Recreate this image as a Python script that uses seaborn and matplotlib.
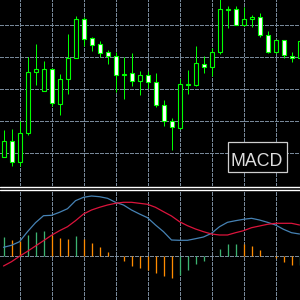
import numpy as np
import pandas as pd
import matplotlib
matplotlib.use("Agg")
import matplotlib.pyplot as plt
import seaborn as sns
from matplotlib.lines import Line2D
from matplotlib.patches import Rectangle

# ---- price candles (relative price units) ----
opens = [29, 45, 24, 53, 114, 95, 117, 82, 107, 128, 167, 148, 142, 134, 130, 111, 113, 105, 111,
         104, 81, 65, 58, 101.5, 101, 122, 119, 134, 176.5, 177, 161, 167, 169, 151, 134, 146, 130, 128]
highs = [56, 57, 65, 129, 142, 125, 118, 112, 152, 170, 169, 149, 145, 136, 134, 129, 133, 115, 115,
         113, 86, 68, 107, 116, 140, 130, 138, 190, 180, 180, 179, 171, 173, 155, 146, 146, 134, 149]
lows = [29, 20, 20, 51, 101, 95, 80, 71, 92, 128, 140, 135, 129, 122, 94, 87, 100, 91, 98,
        79, 60, 36, 57, 92, 100, 113, 110, 132, 158, 161, 160, 159, 149, 133, 133, 128, 124, 128]
closes = [45, 24, 53, 114, 117, 117, 83, 107, 128, 167, 147, 141, 133, 130, 111, 112, 105, 111, 104,
          81, 65, 59, 102, 102, 123, 119, 134, 177, 177, 161, 167, 169, 151, 134, 146, 131, 128, 145]

# ---- MACD ----
macd_line = [9.0, 11.0, 14.6, 24.6, 33.6, 40.6, 41.0, 44.0, 47.6, 55.6, 59.0, 60.3, 59.6, 58.0, 54.0,
             51.3, 46.3, 42.3, 38.6, 31.3, 24.6, 16.3, 16.0, 16.0, 17.6, 19.3, 23.0, 29.6, 34.0, 35.6,
             37.0, 38.0, 36.3, 34.0, 31.3, 27.0, 23.6, 22.3]
signal_line = [-9.7, -5.4, 0.0, 5.0, 10.3, 15.6, 21.0, 25.6, 29.6, 35.6, 42.3, 46.3, 49.0, 51.3, 53.0,
               54.0, 54.0, 53.0, 52.0, 49.0, 44.6, 40.3, 34.6, 30.6, 27.3, 24.6, 22.3, 21.3, 21.3, 23.6,
               25.6, 28.6, 30.3, 32.0, 33.0, 33.0, 33.0, 31.3]
histogram = [19.3, 16.3, 15.3, 21.3, 24.3, 25.3, 21.3, 18.3, 17.3, 20.3, 17.3, 13.3, 9.3, 4.3, 0.5,
             -4.7, -9.7, -11.7, -13.7, -16.7, -19.7, -21.7, -18.7, -13.7, -7.7, -4.7, 0.5, 7.3, 12.3,
             12.6, 12.0, 10.3, 6.3, 0.8, -1.7, -5.7, -8.7, -8.5]

label_text = "MACD"

df = pd.DataFrame({"open": opens, "high": highs, "low": lows, "close": closes,
                   "macd": macd_line, "signal": signal_line, "hist": histogram})
df["idx"] = np.arange(len(df))

sns.set_theme(style="dark", rc={"axes.facecolor": "black", "figure.facecolor": "black"})

BG = "black"
GRID = "#778899"
LIME = "#00ff00"
PX = 0.72  # one pixel in points at 100 dpi

fig = plt.figure(figsize=(3, 3), dpi=100, facecolor=BG)
ax1 = fig.add_axes([0, 114 / 300, 1, 186 / 300])
ax2 = fig.add_axes([0, 0, 1, 110 / 300])

xlim = (-0.4375, 37.0625)
grid_idx = np.arange(2, 38, 4)

for ax in (ax1, ax2):
    ax.set_facecolor(BG)
    ax.set_xlim(*xlim)
    ax.set_xticks(grid_idx)
    for s in ax.spines.values():
        s.set_visible(False)
    ax.tick_params(length=0, labelbottom=False, labelleft=False)
    ax.grid(True, color=GRID, ls=(0, (3, 2)), lw=PX, antialiased=False)
    ax.set_axisbelow(True)
    ax.set_xlabel("")
    ax.set_ylabel("")

# ---- top panel: candles ----
ax1.set_ylim(0, 186)
ax1.set_yticks([33, 65, 97, 129, 161])
ax1.vlines(df["idx"], df["low"], df["high"], color=LIME, lw=PX, zorder=2, snap=True)
up = df["close"] >= df["open"]
body_bottom = np.minimum(df["open"], df["close"])
body_h = np.maximum(np.abs(df["close"] - df["open"]), 0.4)
ax1.bar(df["idx"], body_h, bottom=body_bottom, width=0.5,
        color=np.where(up, "black", "white"), edgecolor=LIME, linewidth=0.8, zorder=3)

# ---- bottom panel: MACD ----
ax2.set_ylim(-43.7, 66.3)
ax2.set_yticks([0])
hist_colors = ["#3cb371" if (i == 0 or histogram[i] >= histogram[i - 1]) else "#ff8c00"
               for i in range(len(histogram))]
ax2.vlines(df["idx"], 0, df["hist"], colors=hist_colors, lw=PX * 1.3, zorder=2, snap=True)
sns.lineplot(data=df, x="idx", y="macd", ax=ax2, color="#4682b4", lw=0.9, zorder=3, estimator=None)
sns.lineplot(data=df, x="idx", y="signal", ax=ax2, color="#dc143c", lw=0.9, zorder=3, estimator=None)
ax2.set_xlabel("")
ax2.set_ylabel("")
ax2.set_xlim(*xlim)

# ---- separators ----
for r in (186.8, 190.0):
    fig.add_artist(Line2D([0, 1], [1 - r / 300, 1 - r / 300], transform=fig.transFigure,
                          color="white", lw=1.0))

# ---- label ----
fig.add_artist(Rectangle((227.5 / 300, 1 - 172 / 300), 59.5 / 300, 30.5 / 300,
                         transform=fig.transFigure, facecolor=BG, edgecolor="#cfcfcf", lw=0.9))
fig.text(257 / 300, 1 - 165.5 / 300, label_text, ha="center", va="baseline",
         color="#dddddd", fontsize=12.8, family=["Liberation Sans", "DejaVu Sans"])

fig.savefig("out.png", dpi=100, facecolor=BG)
